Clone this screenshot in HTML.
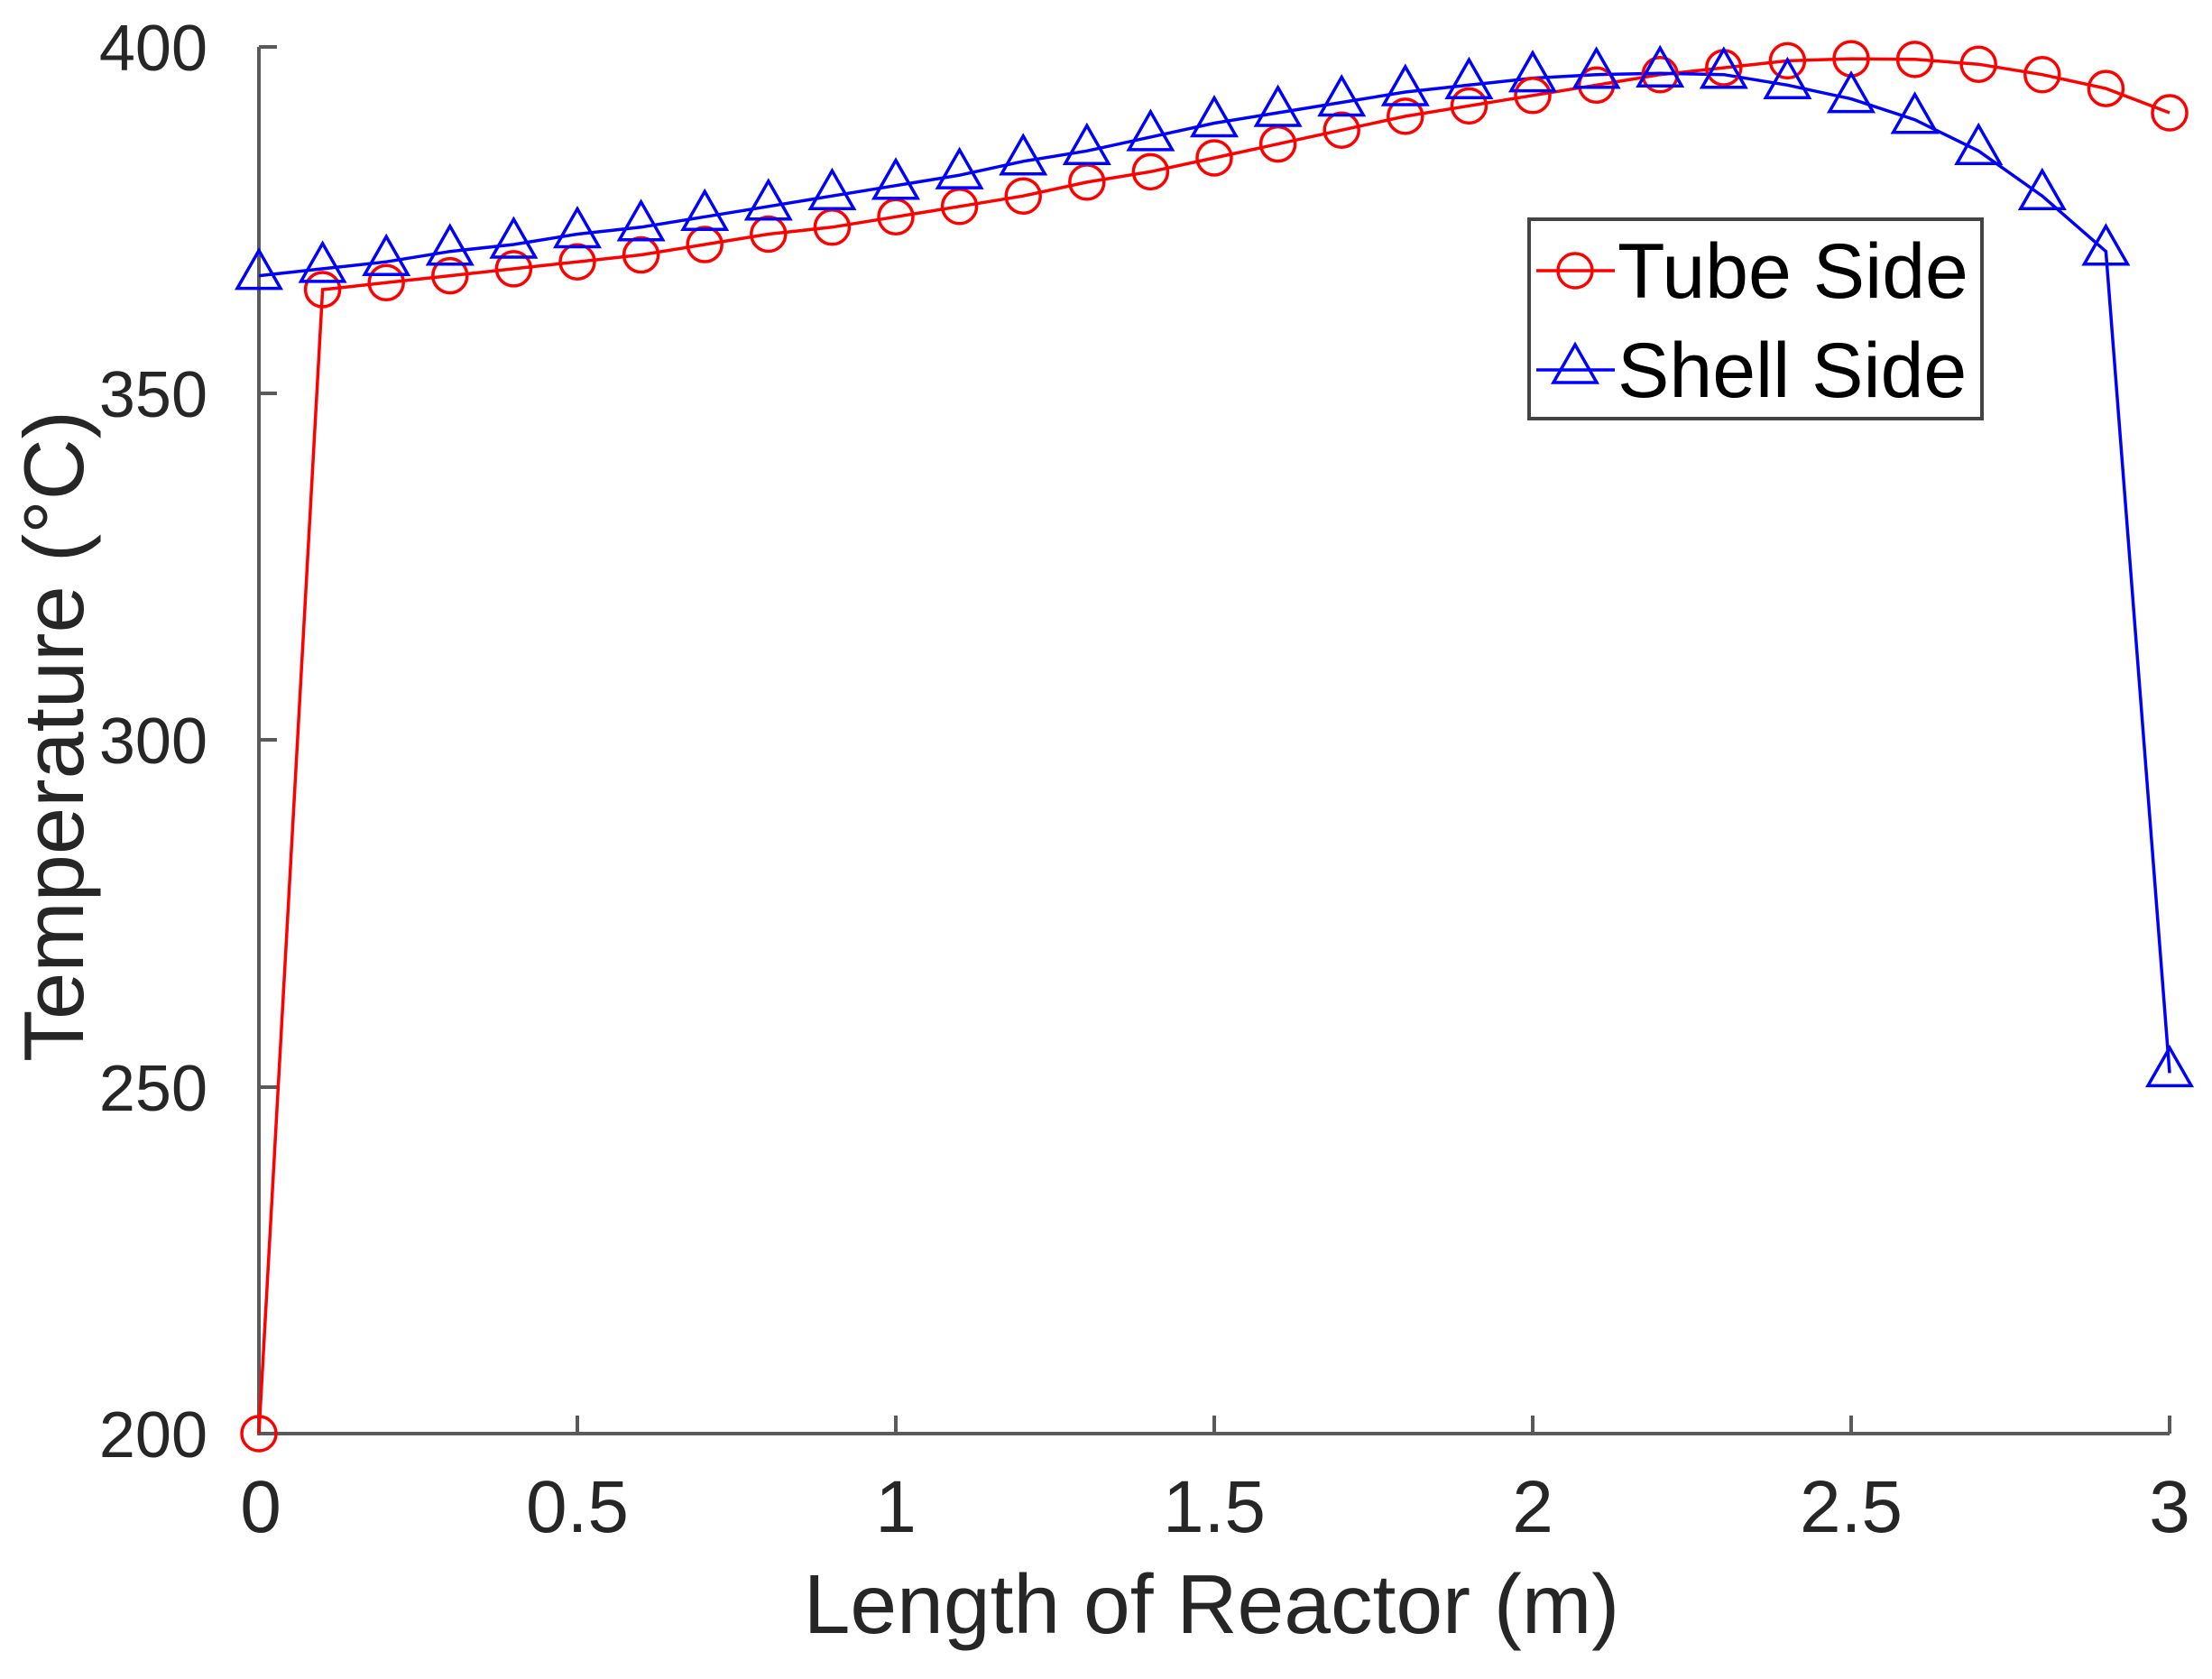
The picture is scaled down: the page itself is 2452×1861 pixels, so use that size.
<!DOCTYPE html>
<html><head><meta charset="utf-8"><style>
html,body{margin:0;padding:0;background:#fff;}
svg{display:block;font-family:"Liberation Sans",Arial,sans-serif;}
</style></head><body>
<svg id="s" width="2452" height="1861" viewBox="0 0 2452 1861" xmlns="http://www.w3.org/2000/svg">
<rect width="2452" height="1861" fill="#fff"/>
<g stroke="#5a5a5a" stroke-width="4" fill="none">
<path d="M287,52 V1589 H2405"/>
<path d="M287,52 h20 M287,436 h20 M287,820 h20 M287,1205 h20"/>
<path d="M640,1589 v-20 M993,1589 v-20 M1346,1589 v-20 M1699,1589 v-20 M2052,1589 v-20 M2405,1589 v-20"/>
</g>
<g fill="#262626" font-size="72" text-anchor="end">
<text x="230" y="78">400</text>
<text x="230" y="462">350</text>
<text x="230" y="846">300</text>
<text x="230" y="1231">250</text>
<text x="230" y="1615">200</text>
</g>
<g fill="#262626" font-size="82" text-anchor="middle">
<text x="289" y="1698">0</text>
<text x="640" y="1698">0.5</text>
<text x="993" y="1698">1</text>
<text x="1346" y="1698">1.5</text>
<text x="1699" y="1698">2</text>
<text x="2052" y="1698">2.5</text>
<text x="2405" y="1698">3</text>
<text x="1343" y="1810" font-size="93">Length of Reactor (m)</text>
<text transform="translate(92,816) rotate(-90)" font-size="94">Temperature (°C)</text>
</g>
<g id="plot"></g>
<rect x="1695" y="243" width="502" height="221" fill="#fff" stroke="#444" stroke-width="4"/>
<line x1="1703" y1="300" x2="1790" y2="300" stroke="#f00" stroke-width="3.5"/>
<circle cx="1746" cy="300" r="19" fill="none" stroke="#f00" stroke-width="3.5"/>
<line x1="1703" y1="410" x2="1790" y2="410" stroke="#00f" stroke-width="3.5"/>
<path d="M1746,382 L1770,424 L1722,424 Z" fill="none" stroke="#00f" stroke-width="3.5"/>
<text x="1793" y="330" font-size="86" fill="#000">Tube Side</text>
<text x="1793" y="440" font-size="86" fill="#000">Shell Side</text>
</svg>
<script>
var tube=[200,365,366,367,368,369,370,371.5,373,374,375.5,377,378.5,380.5,382,384,386,388,390,391.5,393,394.5,396,397,398,398.3,398.2,397.5,396,394,390.5];
var shell=[367,368,369,370.5,371.5,373,374,375.5,377,378.5,380,381.5,383.5,385,387,389,390.5,392,393.5,394.5,395.5,396,396.2,396,394.5,392.5,389.5,385,378.5,370.5,252];
function X(i){return 287+i*0.1*706;}function Y(v){return 1589-(v-200)*7.685;}
var h='';
function pts(a){return a.map(function(v,i){return X(i).toFixed(1)+','+Y(v).toFixed(1);}).join(' ');}
h+='<polyline points="'+pts(tube)+'" fill="none" stroke="#f00" stroke-width="3.5"/>';
h+='<polyline points="'+pts(shell)+'" fill="none" stroke="#00f" stroke-width="3.5"/>';
tube.forEach(function(v,i){h+='<circle cx="'+X(i)+'" cy="'+Y(v)+'" r="19" fill="none" stroke="#f00" stroke-width="3.5"/>';});
shell.forEach(function(v,i){var x=X(i),y=Y(v);h+='<path d="M'+x+','+(y-28)+' L'+(x+24)+','+(y+14)+' L'+(x-24)+','+(y+14)+' Z" fill="none" stroke="#00f" stroke-width="3.5"/>';});
document.getElementById('plot').innerHTML=h;
</script>
</body></html>
